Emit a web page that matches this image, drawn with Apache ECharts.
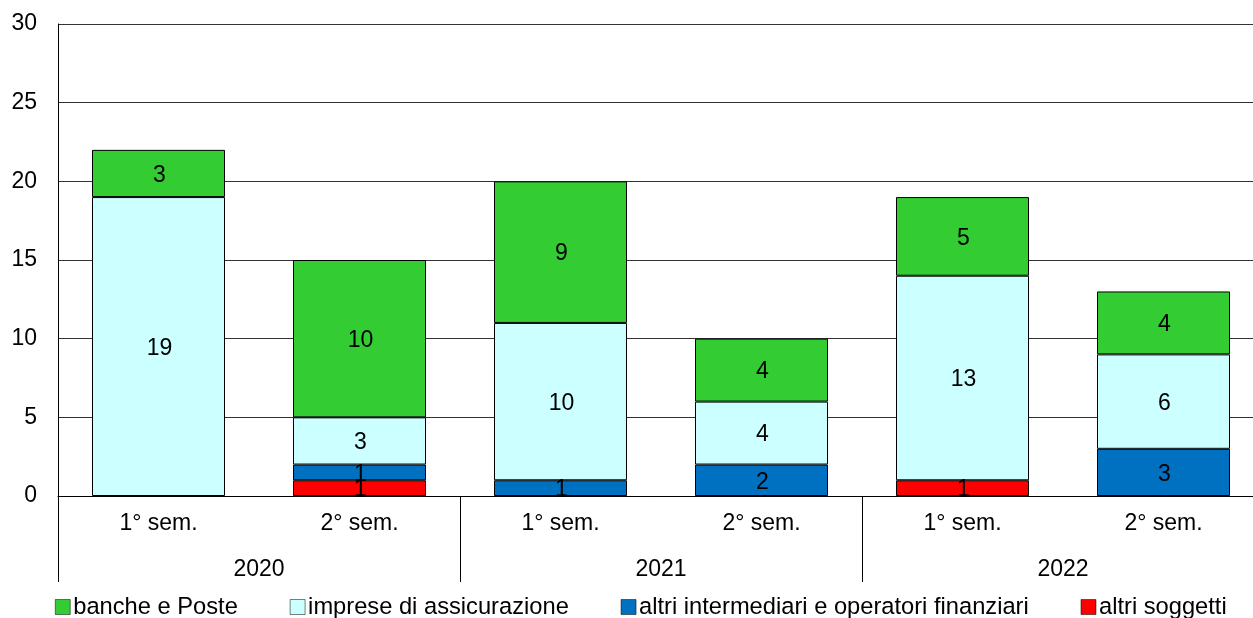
<!DOCTYPE html>
<html>
<head>
<meta charset="utf-8">
<script src="https://cdn.jsdelivr.net/npm/echarts@6/dist/echarts.min.js"></script>
<style>
  html, body { margin: 0; padding: 0; background: #fff; }
  #chart { width: 1253px; height: 618px; }
</style>
</head>
<body>
<div id="chart"></div>
<script>
const semesters = ['1° sem.', '2° sem.', '1° sem.', '2° sem.', '1° sem.', '2° sem.']
const years = ['2020', '2021', '2022']

// stacked bottom to top
const altriSoggetti = [0, 1, 0, 0, 1, 0]
const altriIntermediari = [0, 1, 1, 2, 0, 3]
const impreseAssicurazione = [19, 3, 10, 4, 13, 6]
const banchePoste = [3, 10, 9, 4, 5, 4]

const FONT = 'Liberation Sans, Arial, sans-serif'

function makeSeries(name, data, color) {
  return {
    name,
    type: 'bar',
    stack: 'tot',
    data: data.map(v => (v === 0 ? null : v)),
    barWidth: 133,
    itemStyle: { color, borderColor: '#000', borderWidth: 1 },
    label: {
      show: true,
      position: 'inside',
      color: '#000',
      fontFamily: FONT,
      fontSize: 23,
      offset: [1, 2],
    },
  }
}

const chart = echarts.init(document.getElementById('chart'))
chart.setOption({
  animation: false,
  backgroundColor: '#fff',
  // plot runs past the right edge, as in the cropped original
  grid: { left: 58, top: 24, width: 1206, height: 472, outerBoundsMode: 'none', containLabel: false },
  legend: {
    left: 50,
    top: 590,
    itemWidth: 15,
    itemHeight: 15,
    itemGap: 52,
    icon: 'rect',
    itemStyle: { borderColor: '#000', borderWidth: 0.5 },
    textStyle: { fontFamily: FONT, fontSize: 23.7, color: '#000', padding: [0, 0, 0, -2] },
    data: ['banche e Poste', 'imprese di assicurazione', 'altri intermediari e operatori finanziari', 'altri soggetti'],
  },
  xAxis: [
    {
      type: 'category',
      data: semesters,
      position: 'bottom',
      axisLine: { show: true, lineStyle: { color: '#000', width: 1 } },
      axisTick: { show: false },
      axisLabel: { color: '#000', fontFamily: FONT, fontSize: 23, margin: 16 },
    },
    {
      type: 'category',
      data: years,
      position: 'bottom',
      axisLine: { show: false },
      axisTick: { show: true, length: 86, lineStyle: { color: '#000', width: 1 } },
      axisLabel: { color: '#000', fontFamily: FONT, fontSize: 23, margin: 62 },
    },
  ],
  yAxis: {
    type: 'value',
    min: 0,
    max: 30,
    interval: 5,
    axisLine: { show: true, lineStyle: { color: '#000', width: 1 } },
    axisTick: { show: false },
    axisLabel: { color: '#000', fontFamily: FONT, fontSize: 23, margin: 21, padding: [3, 0, 0, 0] },
    splitLine: { lineStyle: { color: '#333', width: 1 } },
  },
  series: [
    makeSeries('altri soggetti', altriSoggetti, '#FF0000'),
    makeSeries('altri intermediari e operatori finanziari', altriIntermediari, '#0070C0'),
    makeSeries('imprese di assicurazione', impreseAssicurazione, '#CCFFFF'),
    makeSeries('banche e Poste', banchePoste, '#33CC33'),
  ],
})
</script>
</body>
</html>
